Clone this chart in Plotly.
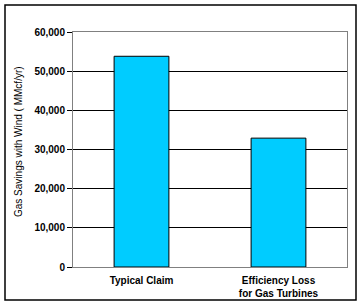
import plotly.graph_objects as go

categories = ["Typical Claim", "Efficiency Loss<br>for Gas Turbines"]
values = [53800, 32900]
tick_vals = [0, 10000, 20000, 30000, 40000, 50000, 60000]
tick_text = ["0", "10,000", "20,000", "30,000", "40,000", "50,000", "60,000"]
y_title = "Gas Savings with Wind ( MMcf/yr)"

fig = go.Figure(go.Bar(
    x=categories, y=values,
    marker=dict(color="#00CCFF", line=dict(color="black", width=1)),
    width=0.4,
))

L, R, T, B = 73, 16, 32, 39
W, H = 363, 306
pw, ph = W - L - R, H - T - B

fig.update_layout(
    width=W, height=H,
    margin=dict(l=L, r=R, t=T, b=B, pad=0, autoexpand=False),
    paper_bgcolor="white", plot_bgcolor="white",
    showlegend=False,
    font=dict(family="Arial, Liberation Sans, sans-serif", color="black"),
    xaxis=dict(
        showline=True, linecolor="#808080", linewidth=1, mirror=True,
        ticks="", showgrid=False, ticklabelstandoff=4, automargin=False,
        tickfont=dict(size=10, weight="bold"),
    ),
    yaxis=dict(
        range=[0, 60000], tickvals=tick_vals, ticktext=tick_text,
        showline=True, linecolor="#808080", linewidth=1, mirror=True,
        showgrid=True, gridcolor="black", gridwidth=1, automargin=False,
        ticks="outside", ticklen=5, tickcolor="black", tickwidth=1,
        tickfont=dict(size=10, weight="bold"),
        zeroline=False,
    ),
    annotations=[dict(
        text=y_title, textangle=-90, showarrow=False,
        xref="paper", yref="paper",
        x=(18 - L) / pw, y=(H - B - 142) / ph,
        xanchor="center", yanchor="middle",
        font=dict(size=10, color="black"),
    )],
    shapes=[dict(
        type="rect", xref="paper", yref="paper",
        x0=(5 - L) / pw, x1=(356 - L) / pw,
        y0=(H - B - 300) / ph, y1=(H - B - 5) / ph,
        line=dict(color="black", width=1.5), fillcolor="rgba(0,0,0,0)",
    )],
)

fig.write_html("out.html")
